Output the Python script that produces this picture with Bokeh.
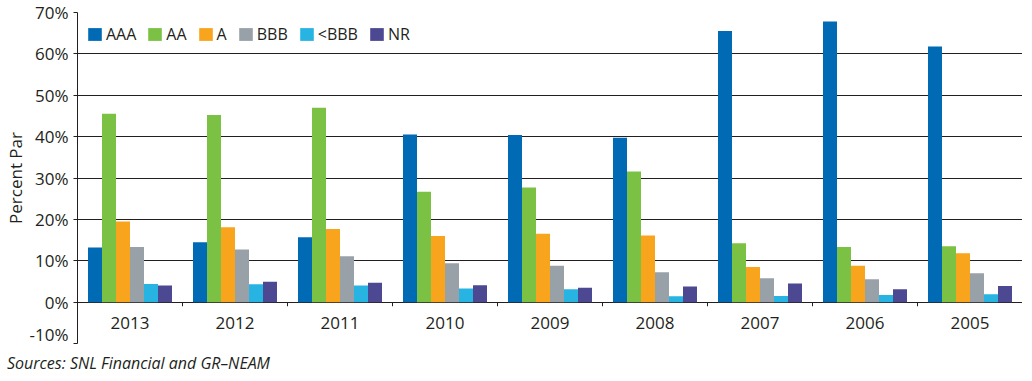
import numpy as np
from bokeh.plotting import figure
from bokeh.layouts import column
from bokeh.models import (ColumnDataSource, Range1d, LinearAxis, FixedTicker,
                          PrintfTickFormatter, Div)
from bokeh.transform import dodge
from bokeh.core.properties import value
from bokeh.embed import file_html
from bokeh.resources import INLINE

# ---- data (percent of par) ----
years = ["2013", "2012", "2011", "2010", "2009", "2008", "2007", "2006", "2005"]
series_names = ["AAA", "AA", "A", "BBB", "<BBB", "NR"]
aaa = [13.2, 14.5, 15.7, 40.5, 40.4, 39.7, 65.5, 67.8, 61.8]
aa = [45.5, 45.2, 47.0, 26.7, 27.7, 31.6, 14.2, 13.3, 13.5]
a = [19.5, 18.1, 17.7, 16.0, 16.5, 16.1, 8.5, 8.8, 11.8]
bbb = [13.3, 12.7, 11.1, 9.4, 8.8, 7.2, 5.8, 5.5, 7.0]
below_bbb = [4.4, 4.3, 4.0, 3.3, 3.1, 1.4, 1.5, 1.7, 1.9]
nr = [4.0, 4.9, 4.7, 4.1, 3.5, 3.8, 4.5, 3.1, 3.9]
y_ticks = [-10, 0, 10, 20, 30, 40, 50, 60, 70]
source_note = "Sources: SNL Financial and GR\u2013NEAM"

colors = ["#006BB4", "#7BC143", "#F8A51D", "#98A1A8", "#28B4E2", "#4C4891"]
FONT = "Open Sans"
TXT = "#231F20"

n = len(years)
cols = ["aaa", "aa", "a", "bbb", "below_bbb", "nr"]
src = ColumnDataSource(dict(x=np.arange(n) + 0.5, year=years, aaa=aaa, aa=aa,
                            a=a, bbb=bbb, below_bbb=below_bbb, nr=nr,
                            label_y=[y_ticks[0] / 2] * n))

p = figure(width=1022, height=345, x_range=Range1d(0, n),
           y_range=Range1d(y_ticks[0], y_ticks[-1]),
           output_backend="svg", toolbar_location=None, x_axis_location=None,
           min_border_left=0, min_border_right=0, min_border_top=12,
           min_border_bottom=2, outline_line_color=None)

bw = 0.8 / len(cols)
for i, (c, name, col) in enumerate(zip(cols, series_names, colors)):
    off = (i - (len(cols) - 1) / 2) * bw
    p.vbar(x=dodge("x", off), top=c, width=bw, bottom=0, source=src,
           fill_color=col, line_color=None, legend_label=name)

# category boundary ticks on the zero line
bounds = np.arange(n + 1)
p.segment(x0=bounds, x1=bounds, y0=[0] * (n + 1), y1=[-1] * (n + 1),
          line_color=TXT, line_width=1)

# year labels
p.text(x="x", y="label_y", text="year", source=src, text_align="center",
       text_baseline="middle", text_font=value(FONT), text_font_size="17px",
       text_color=TXT)

# y axis
yax = p.yaxis[0]
yax.ticker = FixedTicker(ticks=y_ticks)
yax.formatter = PrintfTickFormatter(format="%d%%")
yax.axis_label = "Percent Par"
yax.axis_label_text_font = FONT
yax.axis_label_text_font_style = "normal"
yax.axis_label_text_font_size = "17px"
yax.axis_label_text_color = TXT
yax.axis_label_standoff = 0
yax.major_label_text_font = FONT
yax.major_label_text_font_size = "17px"
yax.major_label_text_color = TXT
yax.major_label_standoff = 5
yax.major_tick_out = 4
yax.major_tick_in = 0
yax.minor_tick_line_color = None
yax.axis_line_color = TXT
yax.major_tick_line_color = TXT

# right border
ra = LinearAxis(bounds=(0, y_ticks[-1]), ticker=FixedTicker(ticks=[]),
                major_label_text_font_size="0px", major_tick_line_color=None,
                minor_tick_line_color=None, axis_line_color=TXT)
p.add_layout(ra, "right")

# grid
p.xgrid.visible = False
p.ygrid.ticker = FixedTicker(ticks=[t for t in y_ticks if t >= 0])
p.ygrid.grid_line_color = TXT
p.ygrid.grid_line_width = 1

# legend
lg = p.legend[0]
lg.orientation = "horizontal"
lg.location = (9, 298)
lg.margin = 0
lg.padding = 0
lg.spacing = 10
lg.label_standoff = 3
lg.label_width = 0
lg.label_height = 0
lg.glyph_width = 17
lg.glyph_height = 16
lg.label_text_font = FONT
lg.label_text_font_size = "16px"
lg.label_text_color = TXT
lg.border_line_color = None
lg.background_fill_alpha = 0

# source note
note = Div(text=source_note, width=1022, height=30, margin=0,
           styles={"font-family": "'Open Sans'", "font-style": "italic",
                   "font-size": "16px", "color": TXT, "line-height": "20px",
                   "padding-top": "8px", "margin-left": "7px"})

layout = column(p, note, spacing=0)
open("out.html", "w").write(file_html(layout, INLINE))
